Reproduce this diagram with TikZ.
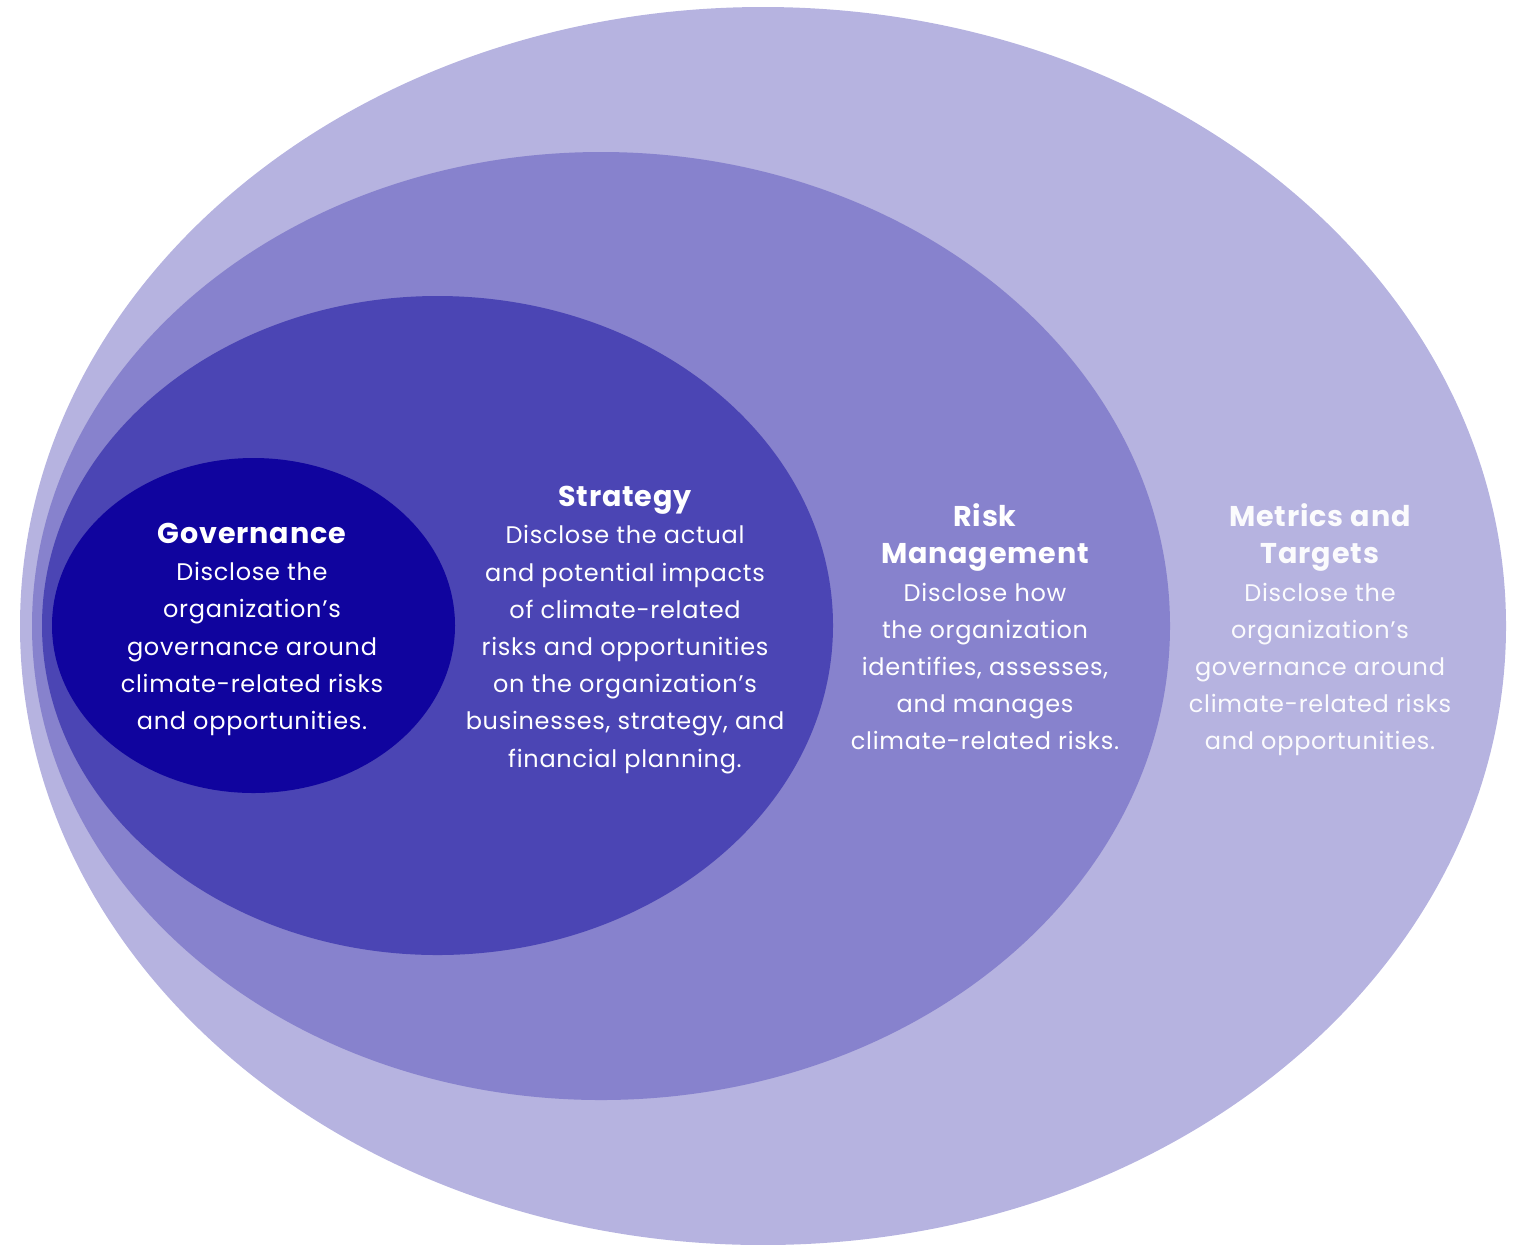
\documentclass[tikz,border=0pt]{standalone}
\usepackage{fontspec}
\setmainfont{Poppins}[LetterSpace=3]
\usepackage{tikz}
\usetikzlibrary{shapes.geometric}
\definecolor{ringD}{HTML}{B6B3E0}
\definecolor{ringC}{HTML}{8782CD}
\definecolor{ringB}{HTML}{4B45B4}
\definecolor{ringA}{HTML}{10049E}
\newcommand\hd[1]{{\fontsize{14.3}{18.75}\selectfont\bfseries #1}}

\begin{document}
\begin{tikzpicture} [x=0.5pt, y=-0.5pt,
  ring/.style = {ellipse, inner sep=0pt, draw=none},
  blurb/.style = {align=center, text=white, inner sep=0pt,
    font=\fontsize{12}{18.6}\selectfont}]
\useasboundingbox (0,0) rectangle (1518,1244);
% nested ellipses, outermost first
\node[ring, fill=ringD, minimum width=743pt, minimum height=619pt] (mt) at (763,626) {};
\node[ring, fill=ringC, minimum width=569pt, minimum height=474pt] (rm) at (601,626) {};
\node[ring, fill=ringB, minimum width=395.5pt, minimum height=329.5pt] (st) at (437.5,625.5) {};
\node[ring, fill=ringA, minimum width=201.5pt, minimum height=167.5pt] (gv) at (253.5,625.5) {};
% texts
\node[blurb] (gvtext) at (252,629.5) {\hd{Governance}\\ Disclose the\\ organization’s\\ governance around\\ climate-related risks\\ and opportunities.};
\node[blurb] (sttext) at (625,630) {\hd{Strategy}\\ Disclose the actual\\ and potential impacts\\ of climate-related\\ risks and opportunities\\ on the organization’s\\ businesses, strategy, and\\ financial planning.};
\node[blurb] (rmtext) at (985,627) {\hd{Risk}\\ \hd{Management}\\ Disclose how\\ the organization\\ identifies, assesses,\\ and manages\\ climate-related risks.};
\node[blurb, text=white!95!ringD] (mttext) at (1320,630) {\hd{Metrics and}\\ \hd{Targets}\\ Disclose the\\ organization’s\\ governance around\\ climate-related risks\\ and opportunities.};
\end{tikzpicture}
\end{document}
